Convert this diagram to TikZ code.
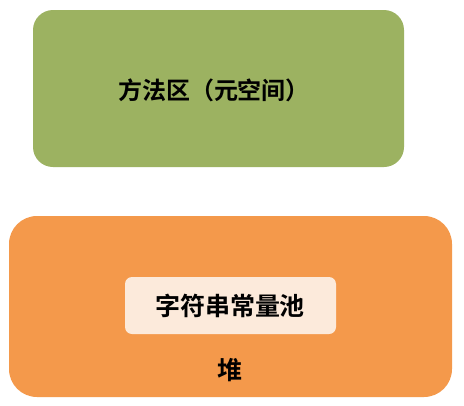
\documentclass[tikz,border=0pt]{standalone}
\usepackage{fontspec}
\newfontfamily\cjk{Noto Sans CJK SC Bold}
\definecolor{methodgreen}{HTML}{9CB261}
\definecolor{heaporange}{HTML}{F4994B}
\definecolor{poolcream}{HTML}{FCEADB}
\tikzset{
  region/.style={draw=none, rounded corners=#1},
  lbl/.style={font=\cjk\fontsize{#1}{#1}\selectfont, text=black, inner sep=0pt},
  lbl/.default=25
}
\begin{document}
\begin{tikzpicture}[x=1pt,y=-1pt]
\useasboundingbox[fill=white] (0,0) rectangle (464,405);
\fill[methodgreen, region=20pt] (33,10) rectangle (404,167);
\node[lbl=24] (method) at (214,90) {方法区（元空间）};
\fill[heaporange, region=28pt] (9,216) rectangle (452,397);
\fill[poolcream, region=7pt] (125,277) rectangle (336,334);
\node[lbl=25] (pool) at (230,306) {字符串常量池};
\node[lbl=25] (heap) at (230,370) {堆};
\end{tikzpicture}
\end{document}
